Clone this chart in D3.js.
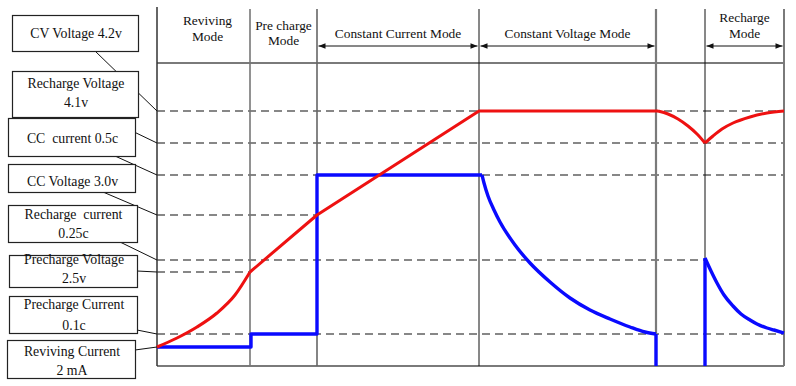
<!DOCTYPE html>
<html><head><meta charset="utf-8">
<script src="https://cdn.jsdelivr.net/npm/d3@7"></script>
<style>
body{margin:0;background:#fff}
svg{display:block}
text{font-family:"Liberation Serif","Times New Roman",serif;fill:#111}
</style>
</head><body>
<svg id="c" width="796" height="386"></svg>
<script>
// ---- data ----
const modeNames = [["Reviving","Mode"],["Pre charge","Mode"],["Constant Current Mode"],["Constant Voltage Mode"],[],["Recharge","Mode"]];
const modeBounds = [0,93,160,322,499,548,627];          // time units
const modeArrows = [false,false,true,true,false,true];
const levelLabels = [["CV Voltage 4.2v"],["Recharge Voltage","4.1v"],["CC  current 0.5c"],["CC Voltage 3.0v"],
                     ["Recharge  current","0.25c"],["Precharge Voltage","2.5v"],["Precharge Current","0.1c"],["Reviving Current","2 mA"]];
const levelValues = [255,223,191,151,106,94,32,19];      // level units
const levelDashEnd = [627,627,627,160,548,93,627,0];     // where each reference line stops (time)
// battery voltage (red), in pieces
const voltageRevT = [0,20,40,60,78,93];
const voltageRevV = [19,28,39,53,71,94];
const voltageRampT = [93,160,322,501];
const voltageRampV = [94,151,255,255];
const voltageDropT = [501,511,521,531,540,548];
const voltageDropV = [255,252,247,240,232,223];
const voltageRiseT = [548,556,565,576,593,610,627];
const voltageRiseV = [223,230,237,243,249,253,255];
// charge current (blue), in pieces
const currentStepT = [0,94,94,160,160,325];
const currentStepV = [19,19,32,32,191,191];
const currentDecayT = [325,327,331,337,343,358,373,393,413,433,453,473,488,499];
const currentDecayV = [191,183,170,156,144,121,103,84,68,56,47,39,34,32];
const currentCutT = [499,499];
const currentCutV = [32,0];
const rechargeJumpT = [548,548];
const rechargeJumpV = [0,108];
const rechargeDecayT = [548,554,560,567,576,584,593,600,610,617,627];
const rechargeDecayV = [108,95,83,71,60,52,46,42,38,36,33];

// ---- layout ----
const svg = d3.select("#c");
const x = d3.scaleLinear().domain([0,627]).range([157,784]);
const y = d3.scaleLinear().domain([0,303]).range([366,63]);
const topY = 9;

// reference dashed lines
svg.append("g").selectAll("line").data(levelValues.map((v,i)=>({v,end:levelDashEnd[i]})).filter(d=>d.end>0))
  .join("line")
  .attr("x1",x(0)).attr("x2",d=>x(d.end))
  .attr("y1",d=>y(d.v)).attr("y2",d=>y(d.v))
  .attr("stroke","#111").attr("stroke-width",1.1).attr("stroke-dasharray","8,5");

// frame horizontal lines
svg.append("line").attr("x1",x(0)).attr("x2",x(627)).attr("y1",y(303)).attr("y2",y(303))
  .attr("stroke","#7a7a7a").attr("stroke-width",2);
svg.append("line").attr("x1",x(0)).attr("x2",x(627)).attr("y1",y(0)).attr("y2",y(0))
  .attr("stroke","#7a7a7a").attr("stroke-width",2);

// vertical mode boundaries
const vStyle = [["#333",1.5],["#777",1.6],["#666",1.6],["#111",1],["#7a7a7a",2.2],["#111",1],["#7a7a7a",2]];
svg.append("g").selectAll("line").data(modeBounds).join("line")
  .attr("x1",d=>x(d)).attr("x2",d=>x(d))
  .attr("y1",(d,i)=>i===0?7:topY).attr("y2",y(0))
  .attr("stroke",(d,i)=>vStyle[i][0]).attr("stroke-width",(d,i)=>vStyle[i][1]);

// arrow markers
const defs = svg.append("defs");
defs.append("marker").attr("id","ah").attr("viewBox","0 0 10 10").attr("refX",10).attr("refY",5)
  .attr("markerWidth",9).attr("markerHeight",7).attr("markerUnits","userSpaceOnUse").attr("orient","auto-start-reverse")
  .append("path").attr("d","M0,1 L10,5 L0,9 Z").attr("fill","#111");

// mode headers
const modes = modeNames.map((n,i)=>({n,a:modeBounds[i],b:modeBounds[i+1],arrow:modeArrows[i]}));
const hdr = svg.append("g");
modes.forEach((m,i)=>{
  const cx = (x(m.a)+x(m.b))/2;
  let bases;
  if (m.n.length===1) bases=[37.5];
  else if (i===0) bases=[25,41];
  else if (i===1) bases=[30,44.5];
  else bases=[22,38];
  m.n.forEach((t,j)=>{
    hdr.append("text").attr("x",i===0?cx+4:cx).attr("y",bases[j]).attr("text-anchor","middle")
      .style("font-size","13.4px").text(t);
  });
  if (m.arrow){
    hdr.append("line").attr("x1",x(m.a)+1.5).attr("x2",x(m.b)-1.5).attr("y1",46).attr("y2",46)
      .attr("stroke","#111").attr("stroke-width",1)
      .attr("marker-start","url(#ah)").attr("marker-end","url(#ah)");
  }
});

// curves
const lin = d3.line().x(d=>x(d[0])).y(d=>y(d[1]));
const smooth = d3.line().x(d=>x(d[0])).y(d=>y(d[1])).curve(d3.curveMonotoneX);
const zip = (T,V)=>T.map((t,i)=>[t,V[i]]);
function draw(T,V,gen,color,w){
  svg.append("path").datum(zip(T,V)).attr("d",gen)
    .attr("fill","none").attr("stroke",color).attr("stroke-width",w)
    .attr("stroke-linejoin","round").attr("stroke-linecap","butt");
}
const BLUE="#0a0aff", RED="#ee1111";
draw(currentStepT,currentStepV,lin,BLUE,3.4);
draw(currentDecayT,currentDecayV,smooth,BLUE,3.4);
draw(currentCutT,currentCutV,lin,BLUE,3.4);
draw(rechargeJumpT,rechargeJumpV,lin,BLUE,3.4);
draw(rechargeDecayT,rechargeDecayV,smooth,BLUE,3.4);
draw(voltageRevT,voltageRevV,smooth,RED,3);
draw(voltageRampT,voltageRampV,lin,RED,3);
draw(voltageDropT,voltageDropV,smooth,RED,3);
draw(voltageRiseT,voltageRiseV,smooth,RED,3);

// label boxes
const boxes = [
  {x:12,y:15,w:126,h:36,ax:95,ay:51,b:[37.5]},
  {x:12,y:71,w:126,h:46,ax:103,ay:117,b:[88,106.5]},
  {x:8,y:118,w:127,h:38,ax:115,ay:156,b:[143]},
  {x:8,y:164,w:127,h:28,ax:103,ay:192,b:[186]},
  {x:8,y:205,w:129,h:37,ax:120,ay:242,b:[219,238]},
  {x:9,y:255,w:128,h:32,ax:137,ay:271,b:[264,283]},
  {x:9,y:296,w:128,h:37,ax:137,ay:330,b:[309,330]},
  {x:7,y:340,w:128,h:38,ax:135,ay:350,b:[356,375]}
];
const lg = svg.append("g");
levelLabels.forEach((lbl,i)=>{
  const bx = boxes[i];
  lg.append("line").attr("x1",bx.ax).attr("y1",bx.ay).attr("x2",x(0)).attr("y2",y(levelValues[i]))
    .attr("stroke","#111").attr("stroke-width",1);
});
levelLabels.forEach((lbl,i)=>{
  const bx = boxes[i];
  lg.append("rect").attr("x",bx.x+0.5).attr("y",bx.y+0.5).attr("width",bx.w).attr("height",bx.h)
    .attr("fill","#fff").attr("stroke","#222").attr("stroke-width",1.2);
  lbl.forEach((t,j)=>{
    lg.append("text").attr("x",bx.x+bx.w/2+1).attr("y",bx.b[j]).attr("text-anchor","middle")
      .style("font-size","13.8px").style("white-space","pre").text(t);
  });
});
</script>
</body></html>
